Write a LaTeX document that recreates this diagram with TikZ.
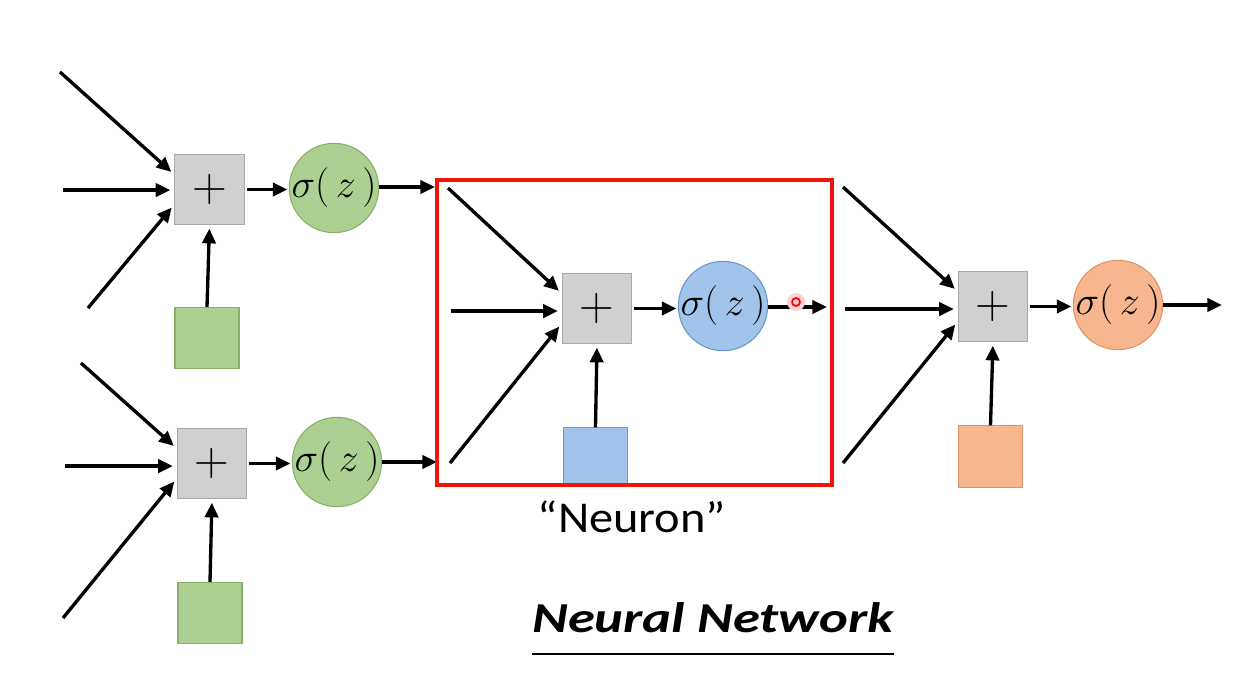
\documentclass[tikz,border=0pt]{standalone}
\usepackage{fontspec}
\newfontfamily\carlito{Carlito}
\usetikzlibrary{arrows.meta}
\definecolor{boxgray}{RGB}{208,208,208}
\definecolor{boxgrayline}{RGB}{170,170,170}
\definecolor{gfill}{RGB}{172,207,146}
\definecolor{gline}{RGB}{135,175,105}
\definecolor{bfill}{RGB}{160,196,234}
\definecolor{bline}{RGB}{110,150,200}
\definecolor{ofill}{RGB}{248,182,142}
\definecolor{oline}{RGB}{225,145,105}
\definecolor{redbox}{RGB}{240,20,10}
\newcommand{\sumsign}{\scalebox{1.45}{\Huge$+$}}
\newcommand{\actfn}{\scalebox{1.2}{\Huge$\sigma(\,z\,)$}}
\tikzset{
  sumbox/.style={draw=boxgrayline, fill=boxgray, line width=0.8pt, minimum size=52pt, inner sep=0pt},
  actnode/.style={circle, line width=0.8pt, minimum size=67pt, inner sep=0pt,
    label={[inner sep=0pt]center:\actfn}},
  biasbox/.style={line width=0.8pt, minimum width=48pt, minimum height=46pt, inner sep=0pt},
  conn/.style={line width=2.5pt, -{Triangle[length=11pt,width=10pt]}},
}
\begin{document}
\begin{tikzpicture}[x=0.75pt,y=-0.75pt]
\useasboundingbox (0,0) rectangle (1257,687);
% ---- nodes
\node[sumbox] (p1) at (209.5,189.5) {\sumsign};
\node[actnode, fill=gfill, draw=gline] (s1) at (334,188) {};
\node[biasbox, fill=gfill, draw=gline] (b1) at (207,338) {};
\node[sumbox] (p2) at (212,463.5) {\sumsign};
\node[actnode, fill=gfill, draw=gline] (s2) at (337,462) {};
\node[biasbox, fill=gfill, draw=gline] (b2) at (210,613) {};
\node[sumbox] (p3) at (597,308.5) {\sumsign};
\node[actnode, fill=bfill, draw=bline] (s3) at (723,306) {};
\node[biasbox, fill=bfill, draw=bline, minimum height=43pt] (b3) at (595.5,456.5) {};
\node[sumbox] (p4) at (993,306.5) {\sumsign};
\node[actnode, fill=ofill, draw=oline] (s4) at (1118,305) {};
\node[biasbox, fill=ofill, draw=oline] (b4) at (990.5,456.5) {};
% ---- free ends
\coordinate (i1a) at (60,72);  \coordinate (i1b) at (63,190);  \coordinate (i1c) at (88,308);
\coordinate (i2a) at (81,363); \coordinate (i2b) at (65,466);  \coordinate (i2c) at (63,618);
\coordinate (i3a) at (448,188);\coordinate (i3b) at (451,311); \coordinate (i3c) at (450,463);
\coordinate (i4a) at (843,187);\coordinate (i4b) at (845,309); \coordinate (i4c) at (843,463);
\coordinate (o1) at (435,187); \coordinate (o2) at (437,462);
\coordinate (o3) at (827,307); \coordinate (o4) at (1222,305);
% ---- connectors
\foreach \k in {1,2,3,4}{
  \draw[conn, shorten >=3pt] (i\k a) -- (p\k.157);
  \draw[conn, shorten >=3pt] (i\k b) -- (i\k b -| p\k.west);
  \draw[conn, shorten >=3pt] (i\k c) -- (p\k.203);
  \draw[conn, shorten <=1.5pt, shorten >=1pt] (p\k.east) -- (p\k.east -| s\k.west);
  \draw[conn, shorten >=3pt] (b\k.north) -- (p\k.south);
  \draw[conn] (s\k.east |- o\k) -- (o\k);
}
% ---- red frame
\node[draw=redbox, line width=3pt, minimum width=296pt, minimum height=228.75pt, inner sep=0pt] (frame) at (634.5,332.5) {};
% ---- pointer
\fill[red!18] (796,302) circle (9);
\draw[red, line width=1.3pt] (796,302) circle (4);
% ---- labels
\node[font=\carlito\fontsize{33}{33}\selectfont, anchor=base, inner sep=0pt] (lneuron) at (632,532) {\scalebox{1.1}[1]{“Neuron”}};
\node[font=\carlito\bfseries\itshape\fontsize{32}{32}\selectfont, anchor=base, inner sep=0pt] (ltitle) at (713,632) {\scalebox{1.28}[1]{Neural Network}};
\draw[line width=1.6pt] (ltitle.west |- 0,654) -- (ltitle.east |- 0,654);
\end{tikzpicture}
\end{document}
